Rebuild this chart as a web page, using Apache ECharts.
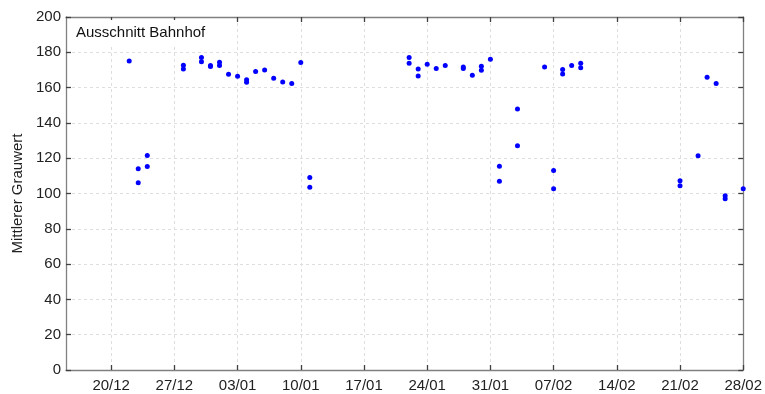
<!DOCTYPE html>
<html>
<head>
<meta charset="utf-8">
<script src="https://cdn.jsdelivr.net/npm/echarts@6/dist/echarts.min.js"></script>
<style>
  html, body { margin: 0; padding: 0; background: #fff; }
  #chart { width: 765px; height: 394px; }
</style>
</head>
<body>
<div id="chart"></div>
<script>
// Daily mean grey values (dd/mm), some days have two readings
const dates = [
  '22/12', '23/12', '23/12', '24/12', '24/12',
  '28/12', '28/12', '30/12', '30/12', '31/12', '31/12',
  '01/01', '01/01', '02/01', '03/01', '04/01', '04/01',
  '05/01', '06/01', '07/01', '08/01', '09/01', '10/01',
  '11/01', '11/01',
  '22/01', '22/01', '23/01', '23/01', '24/01', '25/01', '26/01',
  '28/01', '28/01', '29/01', '30/01', '30/01', '31/01',
  '01/02', '01/02', '03/02', '03/02',
  '06/02', '07/02', '07/02', '08/02', '08/02', '09/02', '10/02', '10/02',
  '21/02', '21/02', '23/02', '24/02', '25/02', '26/02', '26/02', '28/02'
];
const values = [
  175.1, 114.0, 106.1, 115.3, 121.5,
  172.7, 170.6, 177.0, 174.7, 172.5, 172.0,
  174.4, 172.5, 167.6, 166.4, 164.4, 163.0,
  169.1, 170.0, 165.3, 163.2, 162.3, 174.2,
  109.1, 103.6,
  173.8, 177.0, 166.6, 170.6, 173.2, 170.8, 172.5,
  171.7, 170.8, 167.0, 169.8, 172.1, 176.1,
  115.5, 107.0, 127.0, 147.9,
  171.7, 113.0, 102.7, 170.2, 167.7, 172.5, 173.8, 171.3,
  107.2, 104.4, 121.4, 165.9, 162.3, 98.7, 97.0, 102.7
];
const xTickLabels = ['20/12', '27/12', '03/01', '10/01', '17/01', '24/01',
                     '31/01', '07/02', '14/02', '21/02', '28/02'];
const yTicks = [0, 20, 40, 60, 80, 100, 120, 140, 160, 180, 200];
const yTitle = 'Mittlerer Grauwert';
const note = 'Ausschnitt Bahnhof';

// Day offset from 20/12 (Dec, Jan, Feb of one winter)
function dayOffset(s) {
  const [d, m] = s.split('/').map(Number);
  if (m === 12) return d - 20;
  if (m === 1) return d + 11;
  return d + 42;
}
const xTickDays = xTickLabels.map(dayOffset);
const labelOf = {};
xTickLabels.forEach((l, i) => { labelOf[xTickDays[i]] = l; });

const points = dates.map((d, i) => [dayOffset(d), values[i]]);

const FONT = '"Liberation Sans", Arial, sans-serif';
const frame = { show: true, onZero: false, lineStyle: { color: '#808080', width: 1.3 } };
const grid = { show: true, lineStyle: { color: '#dedede', type: [3, 3], width: 1 } };
const tick = { show: true, inside: true, length: 5, lineStyle: { color: '#404040', width: 1.3 } };

const chart = echarts.init(document.getElementById('chart'), null, { renderer: 'canvas' });
chart.setOption({
  animation: false,
  grid: { left: 66, right: 19, top: 17, bottom: 24, containLabel: false },
  textStyle: { fontFamily: FONT },
  xAxis: [
    {
      type: 'value', min: -5, max: 70, position: 'bottom',
      axisLine: frame,
      axisTick: Object.assign({}, tick, { customValues: xTickDays }),
      axisLabel: {
        customValues: xTickDays, margin: 8, fontSize: 15, color: '#222', fontFamily: FONT,
        formatter: v => labelOf[v] || ''
      },
      splitLine: grid
    },
    {
      type: 'value', min: -5, max: 70, position: 'top',
      axisLine: frame,
      axisTick: Object.assign({}, tick, { customValues: xTickDays }),
      axisLabel: { show: false },
      splitLine: { show: false }
    }
  ],
  yAxis: [
    {
      type: 'value', min: 0, max: 200, interval: 20, position: 'left',
      name: yTitle, nameLocation: 'middle', nameGap: 40, nameRotate: 90,
      nameTextStyle: { fontSize: 15, color: '#222', fontFamily: FONT },
      axisLine: frame, axisTick: tick,
      axisLabel: { margin: 5, fontSize: 15, color: '#222', fontFamily: FONT },
      splitLine: grid
    },
    {
      type: 'value', min: 0, max: 200, interval: 20, position: 'right',
      axisLine: frame, axisTick: tick,
      axisLabel: { show: false }, splitLine: { show: false }
    }
  ],
  graphic: [{
    type: 'text', left: 72, top: 20, z: 10,
    style: {
      text: note, font: '15px ' + FONT, fill: '#111',
      backgroundColor: '#fff', padding: [5, 4, 6, 4]
    }
  }],
  series: [{
    type: 'scatter', xAxisIndex: 0, yAxisIndex: 0,
    data: points, symbol: 'circle', symbolSize: 5,
    itemStyle: { color: '#0000ff', opacity: 1 }
  }]
});
</script>
</body>
</html>
